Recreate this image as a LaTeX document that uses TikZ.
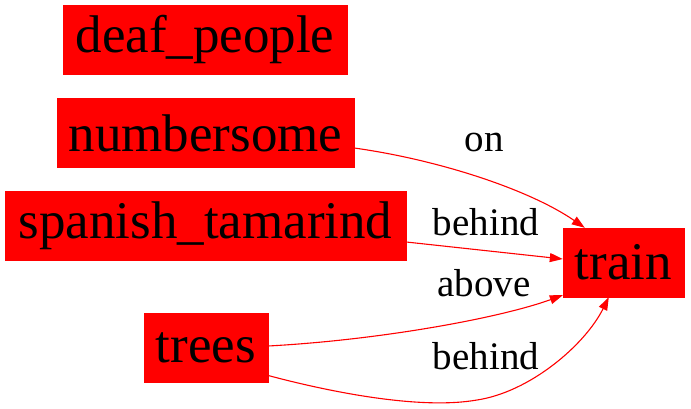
\documentclass[tikz,border=0pt]{standalone}
\usepackage{fontspec}
\setmainfont{Liberation Serif}
\usetikzlibrary{arrows.meta}
\begin{document}
\begin{tikzpicture}[x=1pt,y=-1pt,
  box/.style={fill=red,draw=red,inner sep=0pt,minimum height=69pt,font=\fontsize{53}{60}\selectfont},
  rel/.style={draw=red,line width=1.1pt,-{Triangle[length=13pt,width=9pt]}},
  lab/.style={font=\fontsize{39}{44}\selectfont}]
\useasboundingbox (0,0) rectangle (691,409);
\node[box,minimum width=284pt] (deaf) at (205,39.5) {deaf\_people};
\node[box,minimum width=297pt] (num) at (205.5,133) {numbersome};
\node[box,minimum width=401pt] (span) at (205.5,226) {spanish\_tamarind};
\node[box,minimum width=124pt] (trees) at (206,347.5) {trees};
\node[box,minimum width=121pt] (train) at (623.5,262.5) {train};
\coordinate (onend) at ([xshift=22pt]train.north west);
\coordinate (behend) at ([xshift=46pt]train.south west);
\draw[rel] ([yshift=-15pt]num.east) .. controls (440,160) and (530,190) .. (onend);
\draw[rel] ([yshift=-16pt]span.east) -- ([yshift=3.5pt]train.west);
\draw[rel] ([yshift=1.5pt]trees.east) .. controls (380,340) and (500,318) .. ([yshift=2pt]train.south west);
\draw[rel] ([yshift=-28pt]trees.east) .. controls (330,392) and (420,410) .. (477,400) .. controls (530,392) and (585,345) .. (behend);
\node[lab] (l1) at (484,143) {on};
\node[lab] (l2) at (486,222) {behind};
\node[lab] (l3) at (484,283) {above};
\node[lab] (l4) at (486,356) {behind};
\end{tikzpicture}
\end{document}
